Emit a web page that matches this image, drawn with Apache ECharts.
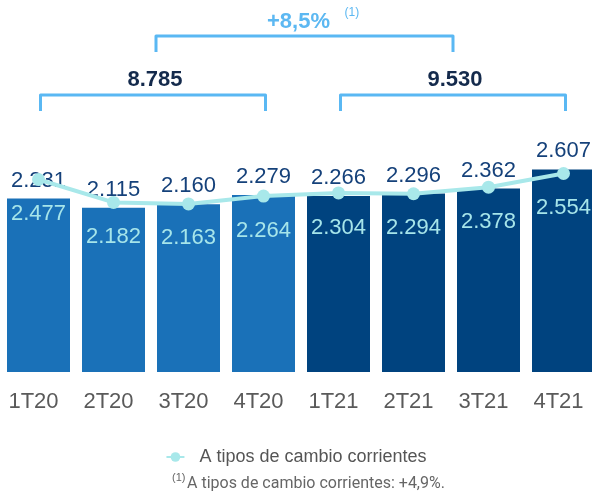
<!DOCTYPE html>
<html>
<head>
<meta charset="utf-8">
<script src="https://cdn.jsdelivr.net/npm/echarts@6/dist/echarts.min.js"></script>
<style>
html,body{margin:0;padding:0;background:#fff;}
#chart{width:592px;height:495px;}
</style>
</head>
<body>
<div id="chart"></div>
<script>
const categories = ['1T20','2T20','3T20','4T20','1T21','2T21','3T21','4T21'];
const constantValues = [2.231, 2.115, 2.160, 2.279, 2.266, 2.296, 2.362, 2.607];
const currentValues = [2.477, 2.182, 2.163, 2.264, 2.304, 2.294, 2.378, 2.554];
const yearTotals = ['8.785', '9.530'];
const growthLabel = '+8,5%';
const footnoteMark = '(1)';
const lineName = 'A tipos de cambio corrientes';
const footnoteText = 'A tipos de cambio corrientes: +4,9%.';

const FONT = 'Liberation Sans, Arial, sans-serif';
const color2020 = '#1a71b8';
const color2021 = '#00437f';
const bracketColor = '#5ab8f3';

const chart = echarts.init(document.getElementById('chart'), null, {renderer: 'canvas'});

const fmt = v => v.toFixed(3);

chart.setOption({
  animation: false,
  textStyle: {fontFamily: FONT},
  grid: {left: 1, width: 600, top: 100, bottom: 123, outerBoundsMode: 'none', containLabel: false},
  xAxis: {
    type: 'category',
    data: categories,
    axisLine: {show: false},
    axisTick: {show: false},
    axisLabel: {fontSize: 22, color: '#5a5a5a', margin: 19, fontFamily: FONT, padding: [0, 10, 0, 0]}
  },
  yAxis: {type: 'value', min: 0, max: 3.5, show: false, splitLine: {show: false}},
  legend: {
    data: [lineName],
    left: 'center',
    top: 443,
    itemWidth: 18,
    itemHeight: 12,
    textStyle: {fontSize: 18, color: '#555', fontFamily: FONT, padding: [0, 0, 0, 10]}
  },
  series: [
    {
      type: 'bar',
      name: 'constantes',
      barWidth: 63,
      z: 2,
      data: constantValues.map((v, i) => ({value: v, itemStyle: {color: i < 4 ? color2020 : color2021}})),
      label: {
        show: true, position: 'top', distance: 7,
        fontSize: 22, color: '#15417a', fontFamily: FONT,
        formatter: p => fmt(p.value)
      }
    },
    {
      type: 'line',
      name: lineName,
      z: 4,
      data: currentValues,
      symbol: 'circle',
      symbolSize: 13,
      lineStyle: {color: '#a8e8ea', width: 4},
      itemStyle: {color: '#a8e8ea'},
      label: {
        show: true, position: 'bottom', distance: 17,
        fontSize: 22, color: '#a6e5ea', fontFamily: FONT,
        formatter: p => fmt(p.value)
      }
    }
  ]
});

// Brackets positioned from the category scale
const cx = i => chart.convertToPixel({xAxisIndex: 0}, i) + 2;
const yTopLine = 95, yTopLeg = 111;
const leftA = cx(0), leftB = cx(3), rightA = cx(4), rightB = cx(7);
const midL = (leftA + leftB) / 2, midR = (rightA + rightB) / 2;
const upA = midL + 3, upB = midR;
const midUp = (upA + upB) / 2;

function bracket(x1, x2, yH, yL) {
  return {
    type: 'polyline',
    shape: {points: [[x1, yL], [x1, yH], [x2, yH], [x2, yL]]},
    style: {stroke: bracketColor, lineWidth: 3, fill: null, lineJoin: 'round', lineCap: 'butt'}
  };
}

chart.setOption({
  graphic: [
    bracket(leftA, leftB, yTopLine, yTopLeg),
    bracket(rightA, rightB, yTopLine, yTopLeg),
    bracket(upA, upB, 36, 52),
    {type: 'text', x: midL + 2, y: 80, style: {text: yearTotals[0], fill: '#142a4c', font: 'bold 22px ' + FONT, textAlign: 'center', textVerticalAlign: 'middle'}},
    {type: 'text', x: midR + 2, y: 80, style: {text: yearTotals[1], fill: '#142a4c', font: 'bold 22px ' + FONT, textAlign: 'center', textVerticalAlign: 'middle'}},
    {type: 'text', x: midUp - 6, y: 22, style: {text: growthLabel, fill: '#5cb8f2', font: 'bold 22px ' + FONT, textAlign: 'center', textVerticalAlign: 'middle'}},
    {type: 'text', x: midUp + 40, y: 13, style: {text: footnoteMark, fill: '#5cb8f2', font: '12px ' + FONT, textAlign: 'left', textVerticalAlign: 'middle'}},
    {type: 'text', x: 172, y: 478, style: {text: footnoteMark, fill: '#666', font: '11px ' + FONT, textAlign: 'left', textVerticalAlign: 'middle'}},
    {type: 'text', x: 187, y: 484, style: {text: footnoteText, fill: '#666', font: '16px Roboto, ' + FONT, textAlign: 'left', textVerticalAlign: 'middle'}}
  ]
});
</script>
</body>
</html>
